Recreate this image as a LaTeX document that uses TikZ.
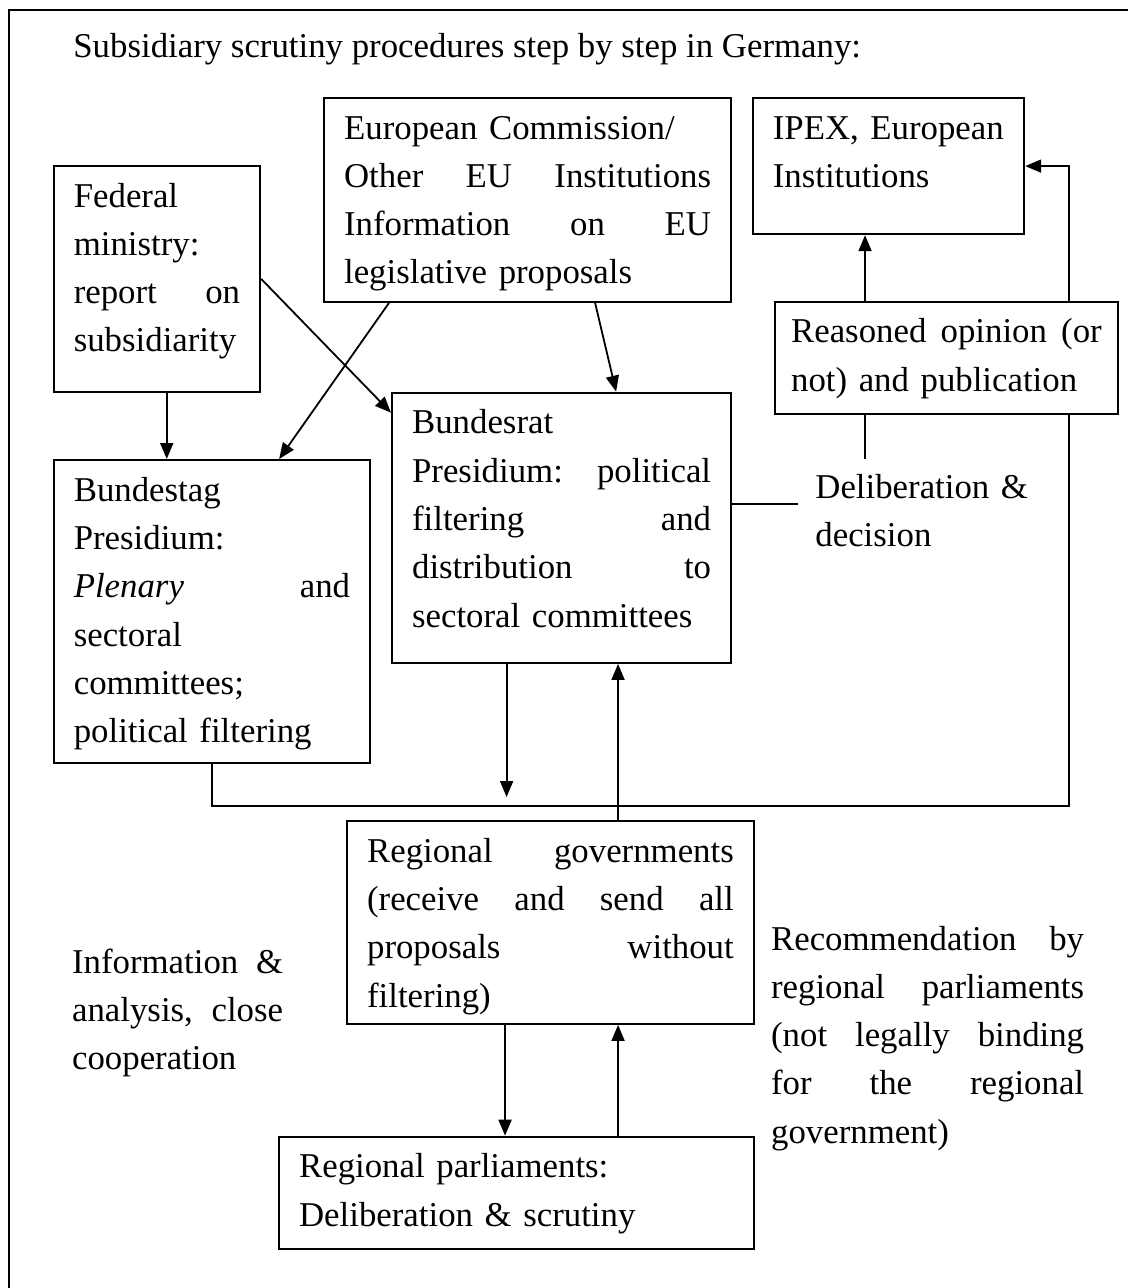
\documentclass[tikz,border=0pt]{standalone}
\usepackage{fontspec}
\setmainfont{Liberation Serif}
\usetikzlibrary{arrows.meta}

\begin{document}
\begin{tikzpicture}[x=0.5pt, y=-0.5pt, font=\fontsize{17.4pt}{24.15pt}\selectfont]
	\useasboundingbox (0,0) rectangle (1128,1288);
	\draw[line width=1pt] (9,1288) -- (9,10) -- (1128,10);
	\node[anchor=base west, inner sep=0] (Title) at (73,58) {Subsidiary scrutiny procedures step by step in Germany:};
	\begin{scope}[every node/.style={rectangle, draw, line width=1.1pt, anchor=north west, align=left, inner xsep=10pt, inner ysep=3.6pt, text height=16.9pt}]
		\node[text width=83.15pt, text depth=88.75pt] (Federal ministry) at (52.7,165) {Federal\\ ministry:\\ report \hfill on\\ subsidiarity};
		\node[text width=183.5pt, text depth=77.75pt] (European Commission) at (323,97) {European Commission/\\ Other \hfill EU \hfill Institutions\\ Information \hfill on \hfill EU\\ legislative proposals};
		\node[text width=115.65pt, text depth=43.9pt] (IPEX) at (751.7,97) {IPEX, European\\ Institutions};
		\node[text width=138.15pt, text depth=127.25pt] (Bundestag) at (52.7,459) {Bundestag\\ Presidium:\\ \textit{Plenary} \hfill and\\ sectoral\\ committees;\\ political filtering};
		\node[text width=149.5pt, text depth=110.9pt] (Bundesrat) at (391,391.7) {Bundesrat\\ Presidium: \hfill political\\ filtering \hfill and\\ distribution \hfill to\\ sectoral committees};
		\node[text width=155.35pt, text depth=32.05pt, inner xsep=8pt] (Reasoned opinion) at (774,300.7) {Reasoned \hfill opinion \hfill (or\\ not) and publication};
		\node[text width=183.35pt, text depth=77.25pt] (Regional governments) at (346,820) {Regional \hfill governments\\ (receive \hfill and \hfill send \hfill all\\ proposals \hfill without\\ filtering)};
		\node[text width=217.35pt, text depth=32.05pt] (Regional parliaments) at (278,1135.7) {Regional parliaments:\\ Deliberation \& scrutiny};
	\end{scope}
	\begin{scope}[every node/.style={anchor=base west, align=left, inner sep=0, text height=16.9pt}]
		\node[text width=105.5pt] (Information) at (71.7,973) {Information \hfill \&\\ analysis, \hfill close\\ cooperation};
		\node[text width=156.5pt] (Recommendation) at (770.7,950) {Recommendation \hfill by\\ regional \hfill parliaments\\ (not \hfill legally \hfill binding\\ for \hfill the \hfill regional\\ government)};
		\node[text width=110pt, inner xsep=8.5pt, inner ysep=2.6pt] (Deliberation) at (798,498) {Deliberation \&\\ decision};
	\end{scope}
	\begin{scope}[>={Triangle[length=8pt,width=6.5pt]}, line width=0.9pt]
	\coordinate (Return line) at (0,806);
	\coordinate (Down end) at (0,797);
	\path [->] ([xshift=4.9pt]Federal ministry.south) edge ([xshift=4.9pt]Federal ministry.south |- Bundestag.north);
	\path [->] (Federal ministry.east) edge ([yshift=-10.5pt]Bundesrat.north west);
	\path [->] ([xshift=33pt]European Commission.south west) edge ([xshift=33.6pt]Bundestag.north);
	\path [->] ([xshift=33.75pt]European Commission.south) edge ([xshift=27.25pt]Bundesrat.north);

	\draw ([yshift=11.85pt]Bundesrat.east) -- ([yshift=11.85pt]Bundesrat.east -| Deliberation.west);
	\draw ([xshift=-40.7pt]Reasoned opinion.south) -- ([xshift=-40.7pt]Reasoned opinion.south |- Deliberation.north);
	\path [->] ([xshift=-40.7pt]Reasoned opinion.north) edge ([xshift=-40.7pt]Reasoned opinion.north |- IPEX.south);
	\draw [->] ([xshift=61.3pt]Reasoned opinion.north) |- (IPEX.east);

	\draw (Bundestag.south) |- ([xshift=61.3pt]Reasoned opinion.south |- Return line) -- ([xshift=61.3pt]Reasoned opinion.south);
	\path [->] ([xshift=-27.5pt]Bundesrat.south) edge ([xshift=-27.5pt]Bundesrat.south |- Down end);
	\path [->] ([xshift=33.8pt]Regional governments.north) edge ([xshift=33.8pt]Regional governments.north |- Bundesrat.south);

	\path [->] ([xshift=-22.7pt]Regional governments.south) edge ([xshift=-22.7pt]Regional governments.south |- Regional parliaments.north);
	\path [->] ([xshift=33.8pt]Regional governments.south |- Regional parliaments.north) edge ([xshift=33.8pt]Regional governments.south);
	\end{scope}
\end{tikzpicture}
\end{document}
